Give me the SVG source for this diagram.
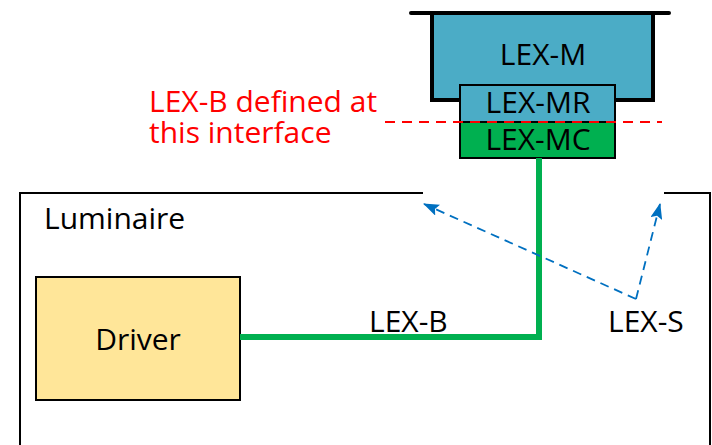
<svg xmlns="http://www.w3.org/2000/svg" width="712" height="445" viewBox="0 0 712 445">
  <defs>
    <style>
      .lbl { font-family: "Open Sans", "Liberation Sans", sans-serif; font-size: 30px; fill: #000; }
      .ctr { text-anchor: middle; }
      .note { font-family: "Open Sans", "Liberation Sans", sans-serif; font-size: 30px; fill: #FF0000; }
      .frame { fill: none; stroke: #000; stroke-width: 2; }
      .wire { fill: none; stroke: #00B050; stroke-width: 6; stroke-linejoin: miter; }
      .ray { fill: none; stroke: #0070C0; stroke-width: 1.8; stroke-dasharray: 9 6; }
    </style>
    <marker id="arrow" viewBox="0 0 16 12" refX="15" refY="6" markerWidth="16" markerHeight="12" orient="auto" markerUnits="userSpaceOnUse">
      <path d="M0,0 L16,6 L0,12 L3,6 z" fill="#0070C0"/>
    </marker>
  </defs>

  <rect x="0" y="0" width="712" height="445" fill="#FFFFFF"/>

  <!-- luminaire enclosure, open at the top between the two segments -->
  <g id="luminaire">
    <path class="frame" d="M20,445 V193 H423"/>
    <path class="frame" d="M664,193 H710 V445"/>
    <text class="lbl" x="44" y="229">Luminaire</text>
  </g>

  <!-- module stack -->
  <g id="lex-m">
    <rect x="432" y="13" width="221" height="87" fill="#4BACC6" stroke="#000" stroke-width="4"/>
    <line x1="411" y1="13" x2="669" y2="13" stroke="#000" stroke-width="4" stroke-linecap="round"/>
    <text class="lbl ctr" x="543" y="65">LEX-M</text>
  </g>
  <g id="lex-mr">
    <rect x="460" y="85" width="155" height="37" fill="#4BACC6" stroke="#000" stroke-width="2"/>
    <text class="lbl ctr" x="538" y="113">LEX-MR</text>
  </g>
  <g id="lex-mc">
    <rect x="460" y="122" width="155" height="36" fill="#00B050" stroke="#000" stroke-width="2"/>
    <text class="lbl ctr" x="538" y="150">LEX-MC</text>
  </g>

  <g id="driver">
    <rect x="36" y="277" width="204" height="123" fill="#FFE699" stroke="#000" stroke-width="2"/>
    <text class="lbl ctr" x="138" y="350">Driver</text>
  </g>

  <g id="interface-note">
    <line x1="385" y1="122" x2="662" y2="122" stroke="#FF0000" stroke-width="1.8" stroke-dasharray="10 7"/>
    <text class="note" x="149" y="112">LEX-B defined at</text>
    <text class="note" x="149" y="143">this interface</text>
  </g>

  <g id="connectors">
    <path class="wire" d="M240,337 H539 V158"/>
    <line class="ray" x1="636" y1="299" x2="424" y2="204" marker-end="url(#arrow)"/>
    <line class="ray" x1="636" y1="299" x2="660" y2="204" marker-end="url(#arrow)"/>
  </g>

  <g id="labels">
    <text class="lbl" x="369" y="332">LEX-B</text>
    <text class="lbl" x="608" y="332">LEX-S</text>
  </g>
</svg>
